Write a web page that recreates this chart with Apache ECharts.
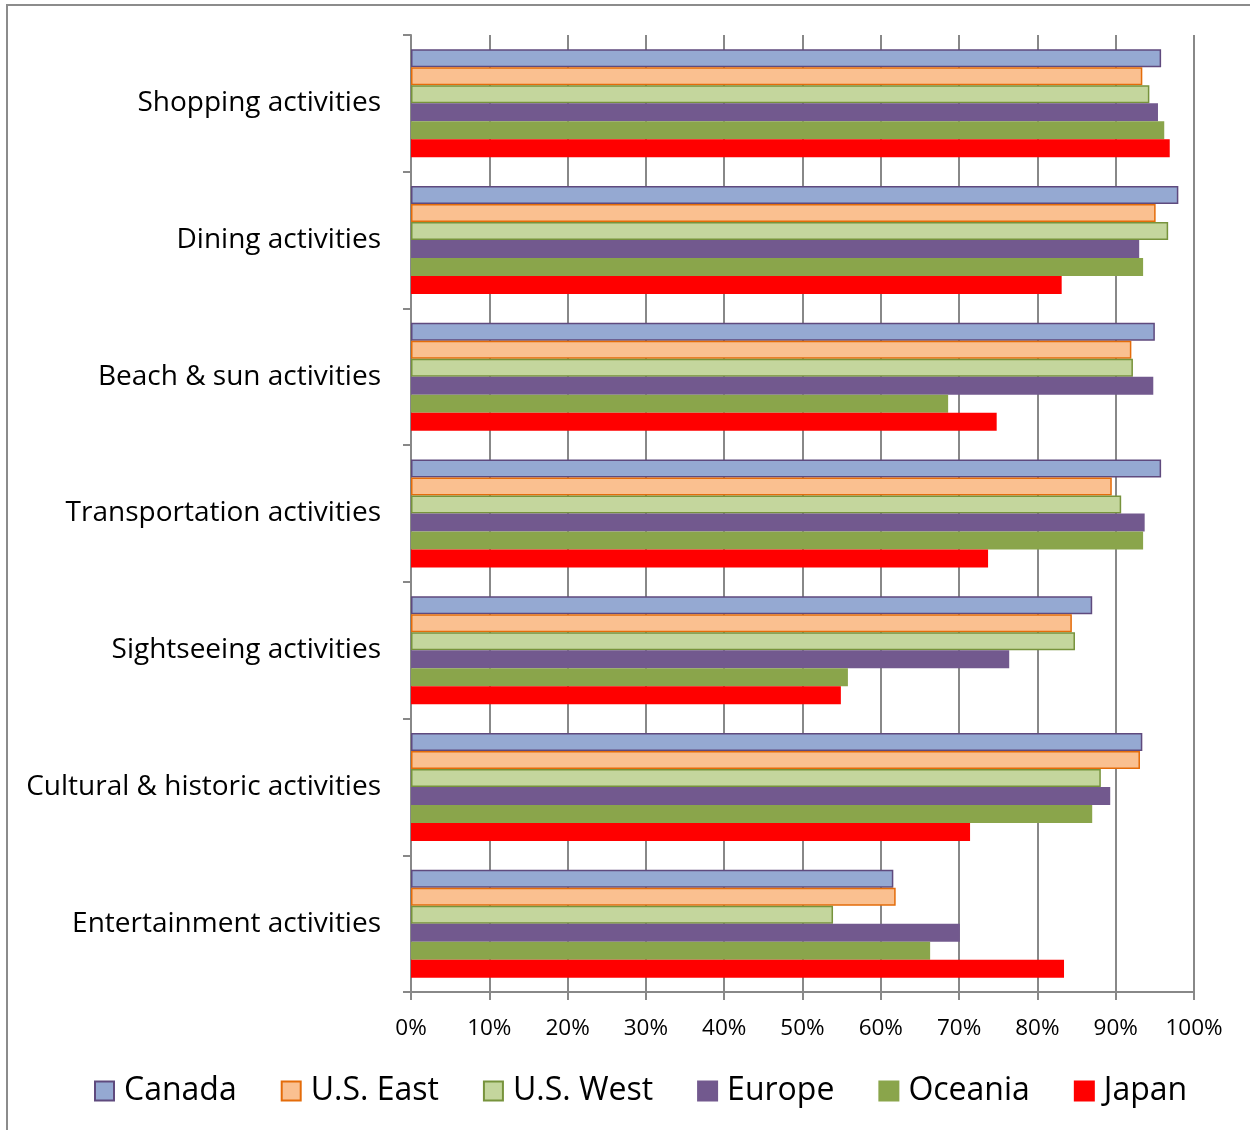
<!DOCTYPE html>
<html><head><meta charset="utf-8">
<script src="https://cdn.jsdelivr.net/npm/echarts@6/dist/echarts.min.js"></script>
<style>html,body{margin:0;padding:0;background:#fff}#c{width:1250px;height:1130px}</style>
</head><body><div id="c"></div>
<script>
const categories = ["Shopping activities","Dining activities","Beach & sun activities","Transportation activities","Sightseeing activities","Cultural & historic activities","Entertainment activities"];
const xTicks = [0,10,20,30,40,50,60,70,80,90,100];
const canada  = [95.8, 98.0, 95.0, 95.8, 87.0, 93.4, 61.6];
const usEast  = [93.4, 95.1, 92.0, 89.5, 84.4, 93.1, 61.9];
const usWest  = [94.3, 96.7, 92.2, 90.7, 84.8, 88.1, 53.9];
const europe  = [95.4, 93.0, 94.8, 93.7, 76.4, 89.3, 70.1];
const oceania = [96.2, 93.5, 68.6, 93.5, 55.8, 87.0, 66.3];
const japan   = [96.9, 83.1, 74.8, 73.7, 54.9, 71.4, 83.4];
const seriesNames = ["Canada","U.S. East","U.S. West","Europe","Oceania","Japan"];

const styles = [
  {color:'#95A9D2', borderColor:'#5F4A7E', borderWidth:1.5},
  {color:'#FAC090', borderColor:'#E46C0A', borderWidth:1.5},
  {color:'#C4D69D', borderColor:'#77933C', borderWidth:1.5},
  {color:'#72598E', borderColor:'#72598E', borderWidth:0},
  {color:'#8AA54B', borderColor:'#8AA54B', borderWidth:0},
  {color:'#FF0000', borderColor:'#FF0000', borderWidth:0}
];
const dataSets = [canada, usEast, usWest, europe, oceania, japan];
const font = '"Open Sans", "Noto Sans", sans-serif';

const chart = echarts.init(document.getElementById('c'), null, {renderer:'canvas'});
chart.setOption({
  animation:false,
  backgroundColor:'#fff',
  graphic:[{type:'rect', shape:{x:7,y:5,width:1300,height:1200}, style:{fill:'none', stroke:'#8C8C8C', lineWidth:2}, silent:true}],
  grid:{left:411, right:56, top:35, bottom:138, containLabel:false},
  legend:{
    top:1070, left:89, itemWidth:19, itemHeight:19, itemGap:44,
    textStyle:{fontFamily:font, fontSize:32, color:'#000', padding:[0,0,0,5]},
    data: seriesNames.map((n,i)=>({name:n, icon:'rect', itemStyle:{color:styles[i].color, borderColor:styles[i].borderWidth? styles[i].borderColor : styles[i].color, borderWidth:2}}))
  },
  xAxis:{
    type:'value', min:0, max:100, interval:10,
    axisLine:{show:true, lineStyle:{color:'#888', width:2}},
    axisTick:{show:true, length:8, lineStyle:{color:'#888', width:2}},
    splitLine:{show:true, lineStyle:{color:'#888', width:2}},
    axisLabel:{formatter:v=>v+'%', fontFamily:font, fontSize:22.5, color:'#000', margin:25}
  },
  yAxis:{
    type:'category', data:categories, inverse:true,
    axisLine:{show:true, lineStyle:{color:'#888', width:2}},
    axisTick:{show:true, length:8, lineStyle:{color:'#888', width:2}},
    axisLabel:{fontFamily:font, fontSize:28, color:'#000', margin:30}
  },
  series: seriesNames.map((n,i)=>({
    name:n, type:'bar', data:dataSets[i], barWidth:18, barGap:'0%',
    itemStyle:styles[i]
  }))
});
</script></body></html>
